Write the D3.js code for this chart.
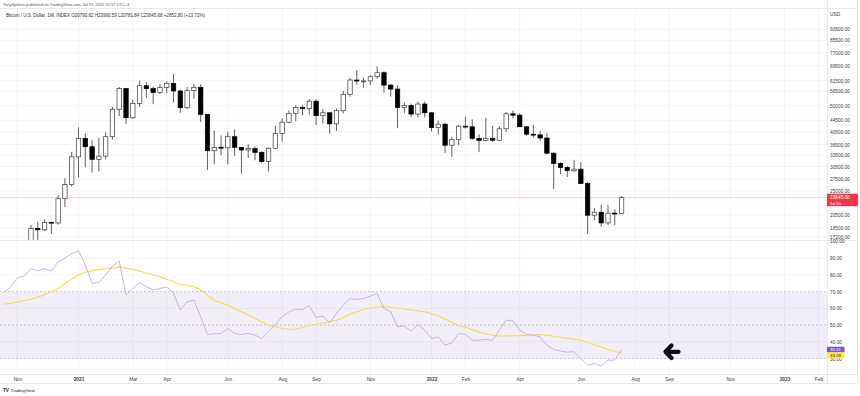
<!DOCTYPE html>
<html><head><meta charset="utf-8">
<script src="https://cdn.jsdelivr.net/npm/d3@7"></script>
<style>html,body{margin:0;padding:0;background:#fff;}svg{display:block;font-family:"Liberation Sans",Arial,sans-serif;}</style>
</head><body><svg id="c" width="860" height="396"></svg>
<script>
// ---------- DATA ----------
const rsiWeeks = ["2020-10-19","2020-10-26","2020-11-02","2020-11-09","2020-11-16","2020-11-23","2020-11-30","2020-12-07","2020-12-14","2020-12-21","2020-12-28",
"2021-01-04","2021-01-11","2021-01-18","2021-01-25","2021-02-01","2021-02-08","2021-02-15","2021-02-22","2021-03-01","2021-03-08","2021-03-15","2021-03-22","2021-03-29",
"2021-04-05","2021-04-12","2021-04-19","2021-04-26","2021-05-03","2021-05-10","2021-05-17","2021-05-24","2021-05-31","2021-06-07","2021-06-14","2021-06-21","2021-06-28",
"2021-07-05","2021-07-12","2021-07-19","2021-07-26","2021-08-02","2021-08-09","2021-08-16","2021-08-23","2021-08-30","2021-09-06","2021-09-13","2021-09-20","2021-09-27",
"2021-10-04","2021-10-11","2021-10-18","2021-10-25","2021-11-01","2021-11-08","2021-11-15","2021-11-22","2021-11-29","2021-12-06","2021-12-13","2021-12-20","2021-12-27",
"2022-01-03","2022-01-10","2022-01-17","2022-01-24","2022-01-31","2022-02-07","2022-02-14","2022-02-21","2022-02-28","2022-03-07","2022-03-14","2022-03-21","2022-03-28",
"2022-04-04","2022-04-11","2022-04-18","2022-04-25","2022-05-02","2022-05-09","2022-05-16","2022-05-23","2022-05-30","2022-06-06","2022-06-13","2022-06-20","2022-06-27",
"2022-07-04","2022-07-11","2022-07-18"];
const candleWeeks = rsiWeeks.slice(4);

const opens = [15960,18420,18200,19350,19250,23450,26350,33000,38400,35850,32350,33200,38900,48660,57600,45440,51100,59000,57600,55800,
58200,60100,56500,49300,56650,58240,46700,34700,35700,35550,38900,35680,34900,35300,34250,31800,35400,40000,43800,47100,
49400,48900,52000,46200,47300,43200,48100,55000,61800,61200,61350,63500,65600,59300,57400,49400,50200,46800,50800,47300,
41900,43100,36300,38000,42400,42200,38400,37700,38400,37800,41500,46900,46400,42200,39700,39500,38500,34000,31300,30300,
29450,29850,26550,20500,21000,19250,20850,20790.82];
const highs = [18920,19440,19830,19420,24100,27700,34400,42000,40000,37800,38500,40400,49700,58350,57800,52700,61500,60800,58600,59800,
61200,64900,57100,58500,59800,59600,45800,40900,39300,40500,41300,35700,36600,35900,34600,35600,42600,45200,48200,50300,
50500,52900,52900,48800,47400,49000,56500,62900,67000,63000,64300,69000,66300,59800,59100,51500,50900,51800,51900,47500,
44400,43500,38900,42700,45800,44800,39700,45400,42500,42400,47600,48200,47200,42500,42900,40800,40000,34300,31600,30600,
32200,31600,26900,21700,22300,22300,21500,23990.59];
const lows = [15800,16200,18000,17600,19000,21900,25900,27900,30300,29000,29300,32300,38000,46100,43200,45000,49600,53500,50800,55000,
55500,51400,47300,48800,53000,43900,29650,31100,33400,31000,33300,28800,32700,32100,31300,29300,35200,37400,43400,44100,
46400,46600,42800,43400,39800,40800,47000,53900,59600,58000,59400,62300,55700,54000,41700,47100,45600,45600,45500,40600,
39600,34000,33000,36300,41600,38000,34300,37500,37200,37600,40500,45200,42100,39200,38600,37600,33700,25400,28700,28000,
29300,26500,17600,19700,18650,18900,18900,20781.84];
const closes = [18420,18200,19350,19250,23450,26350,33000,38400,35850,32350,33200,38900,48660,57600,45440,51100,59000,57600,55800,58200,
60100,56500,49300,56650,58240,46700,34700,35680,35550,38900,35680,34900,35300,34250,31800,35400,40000,43800,47100,49400,
48900,52000,46200,47300,43200,48100,55000,61800,61300,61350,63500,65600,59300,57400,49400,50200,46800,50800,47300,41900,
43100,36300,38000,42400,42200,38400,37700,38400,37800,41500,46900,46400,42200,39700,39500,38500,34000,31300,30300,29500,
29850,26550,20500,21000,19250,20850,20790,23645.68];

const rsi = [69.4,72.9,78.2,79.4,83.8,82.2,83.8,82.2,87.8,89.8,92.8,94.4,85.8,74.9,75.3,79.9,85.2,88.2,67.9,71.9,
75.3,72.9,70.9,71.9,72.9,68.9,59,63.9,64.9,55,44.4,44.8,45,48,45,44.4,45,44,42,46,
50.4,55,57.9,59.4,59.4,61.5,54.6,55.4,51.4,57,61.9,65.9,65.3,65.9,67.3,68.9,60,57.9,49,49.4,
46.4,50.4,47,42,43,38,39.4,45,44.4,41,41,41.4,41,47,53,52.4,47,44.4,44,43,
38,35.5,34.5,33.9,34.1,30.1,26,27.1,25.7,29.1,29.1,35.41];
const rsiMA = [62.4,63.0,63.8,64.6,65.5,66.6,68.2,69.8,71.7,74.8,77.6,80.0,81.5,82.5,83.1,83.6,84.1,84.7,84.0,83.2,
82.3,81.1,80.1,78.9,77.4,75.9,74.3,73.6,72.9,70.9,67.9,64.9,63.4,61.9,59.9,58,56,54,51.8,50,
49,48,47.5,47.7,48.6,49.6,50.5,51.3,52,52.8,54.5,56.6,58,59.3,60.2,60.8,60.9,60.7,60.2,59.6,
59,58.5,58,56.8,55.6,53.6,51.7,49.8,48.9,47.3,45.8,44.8,44,43.5,43.5,43.6,43.7,43.9,44.1,44.4,
44,43.3,42.7,42.2,41.7,40.9,39.6,38.3,37,35.4,34.2,33.28];

const priceTicks = [93500,85500,77000,69500,61500,56500,50000,44500,40500,36500,33500,30500,27500,25000,20500,18500,17200];
const rsiTicks = [100,90,80,70,60,50,40,30];
const timeTickDates = ["2020-11-02","2021-01-04","2021-03-01","2021-04-05","2021-06-07","2021-08-02","2021-09-06","2021-11-01",
"2022-01-03","2022-02-07","2022-04-04","2022-06-06","2022-08-01","2022-09-05","2022-11-07","2023-01-02","2023-02-06"];
const timeTickLabels = ["Nov","2021","Mar","Apr","Jun","Aug","Sep","Nov","2022","Feb","Apr","Jun","Aug","Sep","Nov","2023","Feb"];
const lastPrice = 23645.68, lastRsi = 35.41, lastMA = 33.28;

// ---------- LAYOUT ----------
const svg = d3.select("#c");
const AX = 827, P_TOP = 9, P_BOT = 240, R_TOP = 241, R_BOT = 374, T_BOT = 383;
const parse = d3.utcParse("%Y-%m-%d");
const x = d3.scaleUtc().domain([parse("2021-01-04"), parse("2023-01-02")]).range([78.5, 784.5]);
const yP = d3.scaleLog().domain([17200, 93500]).range([236.7, 29.3]);
const yR = d3.scaleLinear().domain([30, 70]).range([358.6, 291.6]);
const gridC = "#f1f2f5";

const defs = svg.append("defs");
defs.append("clipPath").attr("id","cp").append("rect").attr("x",0).attr("y",P_TOP).attr("width",AX).attr("height",P_BOT-P_TOP);
defs.append("clipPath").attr("id","cr").append("rect").attr("x",0).attr("y",R_TOP).attr("width",AX).attr("height",R_BOT-R_TOP);

// vertical grid
svg.append("g").selectAll("line").data(timeTickDates).join("line")
  .attr("x1",d=>x(parse(d))).attr("x2",d=>x(parse(d))).attr("y1",P_TOP).attr("y2",R_BOT)
  .attr("stroke",gridC).attr("stroke-width",0.8);
// price horizontal grid
svg.append("g").selectAll("line").data(priceTicks).join("line")
  .attr("x1",0).attr("x2",AX).attr("y1",d=>yP(d)).attr("y2",d=>yP(d))
  .attr("stroke",gridC).attr("stroke-width",0.8);
// rsi grid
svg.append("g").selectAll("line").data([90,80,60,40]).join("line")
  .attr("x1",0).attr("x2",AX).attr("y1",d=>yR(d)).attr("y2",d=>yR(d))
  .attr("stroke",gridC).attr("stroke-width",0.8);

// RSI band
svg.append("rect").attr("x",0).attr("width",AX).attr("y",yR(70)).attr("height",yR(30)-yR(70))
  .attr("fill","rgba(126,87,194,0.10)");
svg.append("g").selectAll("line").data([70,50,30]).join("line")
  .attr("x1",0).attr("x2",AX).attr("y1",d=>yR(d)).attr("y2",d=>yR(d))
  .attr("stroke","#b3adc6").attr("stroke-width",0.7).attr("stroke-dasharray","2,2");

// current price line
svg.append("line").attr("x1",0).attr("x2",AX).attr("y1",yP(lastPrice)).attr("y2",yP(lastPrice))
  .attr("stroke","#f5b3ba").attr("stroke-width",0.7);

// candles
const cg = svg.append("g").attr("clip-path","url(#cp)");
const bw = 4.4;
const cdata = candleWeeks.map((d,i)=>({d:parse(d),o:opens[i],h:highs[i],l:lows[i],c:closes[i]}));
cg.selectAll("line.w").data(cdata).join("line").attr("class","w")
  .attr("x1",d=>x(d.d)).attr("x2",d=>x(d.d)).attr("y1",d=>yP(d.h)).attr("y2",d=>yP(d.l))
  .attr("stroke","#3a3a3a").attr("stroke-width",0.8);
cg.selectAll("rect").data(cdata).join("rect")
  .attr("x",d=>x(d.d)-bw/2).attr("width",bw)
  .attr("y",d=>yP(Math.max(d.o,d.c)))
  .attr("height",d=>Math.max(0.9,Math.abs(yP(d.o)-yP(d.c))))
  .attr("fill",d=>d.c>=d.o?"#ffffff":"#000000")
  .attr("stroke",d=>d.c>=d.o?"#3a3a3a":"#000000").attr("stroke-width",0.7);

// RSI lines
const rg = svg.append("g").attr("clip-path","url(#cr)");
const rline = d3.line().x((d,i)=>x(parse(rsiWeeks[i]))).y(d=>yR(d));
rg.append("path").datum(rsiMA).attr("d",rline).attr("fill","none").attr("stroke","#f5dc46").attr("stroke-width",1.1);
rg.append("path").datum(rsi).attr("d",rline).attr("fill","none").attr("stroke","#b7a3e0").attr("stroke-width",0.8);

// arrow annotation
const ag = svg.append("g").attr("stroke","#0d0d12").attr("stroke-width",4.2).attr("fill","none")
  .attr("stroke-linecap","round").attr("stroke-linejoin","round");
ag.append("path").attr("d","M671.5,345.5 L665.5,351.8 L671.5,358");
ag.append("path").attr("d","M666.5,351.8 L678.5,351.8");

// frame lines
const fr = svg.append("g").attr("stroke","#e0e3eb").attr("stroke-width",0.8);
fr.append("line").attr("x1",0).attr("x2",857).attr("y1",8.5).attr("y2",8.5);
fr.append("line").attr("x1",0).attr("x2",857).attr("y1",240.5).attr("y2",240.5);
fr.append("line").attr("x1",0).attr("x2",857).attr("y1",374.5).attr("y2",374.5);
fr.append("line").attr("x1",0).attr("x2",857).attr("y1",383.5).attr("y2",383.5);
fr.append("line").attr("x1",AX+0.5).attr("x2",AX+0.5).attr("y1",0).attr("y2",383.5);
fr.append("line").attr("x1",857.5).attr("x2",857.5).attr("y1",0).attr("y2",383.5);

// price axis
const fs = 4.8, txtC = "#3b3e45";
const pax = svg.append("g").attr("transform",`translate(${AX},0)`)
  .call(d3.axisRight(yP).tickValues(priceTicks).tickFormat(d=>d.toFixed(2)).tickSize(0).tickPadding(3));
pax.select(".domain").remove();
pax.selectAll("text").attr("font-size",fs).attr("fill",txtC).attr("font-family","Liberation Sans, Arial, sans-serif");
svg.append("text").attr("x",AX+3).attr("y",14).attr("dy","0.32em").attr("font-size",fs).attr("fill",txtC).text("USD");

// rsi axis
const rax = svg.append("g").attr("transform",`translate(${AX},0)`)
  .call(d3.axisRight(yR).tickValues(rsiTicks).tickFormat(d=>d.toFixed(2)).tickSize(0).tickPadding(3));
rax.select(".domain").remove();
rax.selectAll("text").attr("font-size",fs).attr("fill",txtC).attr("font-family","Liberation Sans, Arial, sans-serif");

// time axis
const tax = svg.append("g").attr("transform",`translate(0,${R_BOT})`)
  .call(d3.axisBottom(x).tickValues(timeTickDates.map(parse)).tickFormat((d,i)=>timeTickLabels[i]).tickSize(0).tickPadding(3.2));
tax.select(".domain").remove();
tax.selectAll("text").attr("font-size",fs).attr("fill",txtC).attr("font-family","Liberation Sans, Arial, sans-serif")
  .attr("font-weight",(d,i)=>/^\d{4}$/.test(timeTickLabels[i])?"bold":"normal");

// last price label
const ly = yP(lastPrice);
svg.append("rect").attr("x",AX).attr("y",ly-4).attr("width",31).attr("height",12.5).attr("fill","#f23645");
svg.append("text").attr("x",AX+3).attr("y",ly).attr("dy","0.35em").attr("font-size",fs).attr("fill","#fff").text(lastPrice.toFixed(2));
svg.append("text").attr("x",AX+3).attr("y",ly+5.5).attr("dy","0.35em").attr("font-size",fs-0.4).attr("fill","#fff").text("5d 5h");

// rsi labels
svg.append("rect").attr("x",AX).attr("y",yR(lastRsi)-2.8).attr("width",17.5).attr("height",5.6).attr("fill","#7e57c2");
svg.append("text").attr("x",AX+3).attr("y",yR(lastRsi)).attr("dy","0.35em").attr("font-size",4.4).attr("fill","#fff").text(lastRsi.toFixed(2));
const my = yR(lastRsi)+5.9;
svg.append("rect").attr("x",AX).attr("y",my-2.8).attr("width",17.5).attr("height",5.6).attr("fill","#ffeb3b");
svg.append("text").attr("x",AX+3).attr("y",my).attr("dy","0.35em").attr("font-size",4.4).attr("fill","#222").text(lastMA.toFixed(2));

// titles
svg.append("text").attr("x",3).attr("y",4.5).attr("dy","0.35em").attr("font-size",4.0).attr("fill","#555")
  .text("TonySpilotro published on TradingView.com, Jul 19, 2022 21:17 UTC+3");
svg.append("text").attr("x",6).attr("y",15).attr("dy","0.35em").attr("font-size",4.5).attr("fill","#333")
  .text("Bitcoin / U.S. Dollar, 1W, INDEX  O20790.82  H23990.59  L20781.84  C23645.68  +2852.80 (+13.72%)");
svg.append("text").attr("x",3).attr("y",390).attr("dy","0.35em").attr("font-size",4.6).attr("font-weight","bold").attr("fill","#131722").text("TV");
svg.append("text").attr("x",10.5).attr("y",390).attr("dy","0.35em").attr("font-size",4.4).attr("fill","#131722").text("TradingView");
</script></body></html>
